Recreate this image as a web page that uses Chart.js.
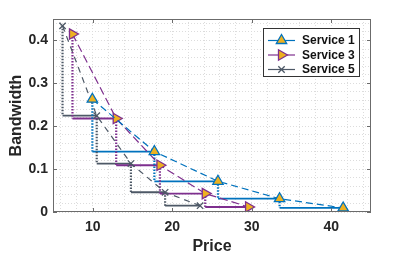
<!DOCTYPE html>
<html>
<head>
<meta charset="utf-8">
<script src="https://cdn.jsdelivr.net/npm/chart.js@4/dist/chart.umd.min.js"></script>
<style>
html,body{margin:0;padding:0;background:#fff;}
canvas{display:block;}
</style>
</head>
<body>
<canvas id="c" width="409" height="256"></canvas>
<script>
// ---- data ----
const seriesNames = ['Service 1', 'Service 3', 'Service 5'];
const price1 = [9.95, 17.75, 25.75, 33.5, 41.5];
const bw1    = [0.263, 0.141, 0.0716, 0.031, 0.0094];
const price3 = [7.45, 12.95, 18.45, 24.15, 29.6];
const bw3    = [0.415, 0.218, 0.109, 0.043, 0.0117];
const price5 = [6.2, 10.5, 14.8, 19.1, 23.5];
const bw5    = [0.434, 0.2245, 0.113, 0.046, 0.0147];
const xTickLabels = [10, 20, 30, 40];
const yTickLabels = [0, 0.1, 0.2, 0.3, 0.4];

// ---- styles ----
const BLUE = '#0072BD', PURPLE = '#7E2F8E', GRAY = '#4d5866', ORANGE = '#EDB120';
const FONT = 'Liberation Sans, Arial, Helvetica, sans-serif';

function pts(xs, ys) { return xs.map((x, i) => ({x: x, y: ys[i]})); }
function steps(xs, ys) {        // horizontal solid segments at next level
  const out = [];
  for (let i = 0; i < xs.length - 1; i++) {
    out.push({x: xs[i], y: ys[i + 1]}, {x: xs[i + 1], y: ys[i + 1]}, {x: xs[i + 1], y: null});
  }
  return out;
}
function drops(xs, ys) {        // vertical dotted drops
  const out = [];
  for (let i = 0; i < xs.length - 1; i++) {
    out.push({x: xs[i], y: ys[i]}, {x: xs[i], y: ys[i + 1]}, {x: xs[i], y: null});
  }
  return out;
}

const series = [
  {name: seriesNames[0], xs: price1, ys: bw1, color: BLUE, style: 'triangle', rot: 0, r: 6, fill: ORANGE, dash: [7, 4]},
  {name: seriesNames[1], xs: price3, ys: bw3, color: PURPLE, style: 'triangle', rot: 90, r: 6, fill: ORANGE, dash: [8, 4]},
  {name: seriesNames[2], xs: price5, ys: bw5, color: GRAY, style: 'crossRot', rot: 0, r: 4.5, fill: GRAY, dash: [6, 5]}
];

const datasets = [];
series.forEach(s => {
  datasets.push({
    label: s.name, legend: true, data: pts(s.xs, s.ys), order: 0,
    borderColor: s.color, borderWidth: 1.2, borderDash: s.dash,
    pointStyle: s.style, pointRotation: s.rot, pointRadius: s.r,
    pointBackgroundColor: s.fill, pointBorderColor: s.color, pointBorderWidth: 1.3,
    showLine: true, tension: 0, _marker: s
  });
});
series.forEach(s => {
  datasets.push({
    label: s.name + ' step', data: steps(s.xs, s.ys), order: 2,
    borderColor: s.color, borderWidth: 1.8, pointRadius: 0, showLine: true, spanGaps: false
  });
  datasets.push({
    label: s.name + ' drop', data: drops(s.xs, s.ys), order: 1,
    borderColor: s.color, borderWidth: 2.2, borderDash: [1.5, 1.5], pointRadius: 0, showLine: true, spanGaps: false
  });
});

function drawMarker(ctx, s, x, y) {
  ctx.save();
  ctx.lineWidth = 1.3;
  ctx.strokeStyle = s.color;
  ctx.fillStyle = s.fill;
  ctx.setLineDash([]);
  ctx.beginPath();
  if (s.style === 'triangle') {
    let rad = s.rot * Math.PI / 180;
    for (let k = 0; k < 3; k++) {
      const px = x + Math.sin(rad) * s.r, py = y - Math.cos(rad) * s.r;
      if (k === 0) ctx.moveTo(px, py); else ctx.lineTo(px, py);
      rad += 2 * Math.PI / 3;
    }
    ctx.closePath();
    ctx.fill();
    ctx.stroke();
  } else {
    const o = s.r * Math.SQRT1_2;
    ctx.moveTo(x - o, y - o); ctx.lineTo(x + o, y + o);
    ctx.moveTo(x + o, y - o); ctx.lineTo(x - o, y + o);
    ctx.stroke();
  }
  ctx.restore();
}

const framePlugin = {
  id: 'frame',
  afterDraw(chart) {
    const ctx = chart.ctx, a = chart.chartArea;
    const xs = chart.scales.x, ys = chart.scales.y;
    ctx.save();
    ctx.setLineDash([]);
    ctx.strokeStyle = '#6b6b6b';
    ctx.lineWidth = 1;
    ctx.strokeRect(Math.round(a.left) + 0.5, Math.round(a.top) + 0.5,
                   Math.round(a.right - a.left) - 1, Math.round(a.bottom - a.top) - 1);
    const tl = 4;
    ctx.beginPath();
    xTickLabels.forEach(v => {
      const px = Math.round(xs.getPixelForValue(v)) + 0.5;
      ctx.moveTo(px, a.bottom); ctx.lineTo(px, a.bottom - tl);
      ctx.moveTo(px, a.top); ctx.lineTo(px, a.top + tl);
    });
    yTickLabels.forEach(v => {
      const py = Math.round(ys.getPixelForValue(v)) + 0.5;
      ctx.moveTo(a.left, py); ctx.lineTo(a.left + tl, py);
      ctx.moveTo(a.right, py); ctx.lineTo(a.right - tl, py);
    });
    ctx.stroke();

    // legend
    const bx = 263.5, by = 28.5, bw = 96, bh = 48;
    ctx.fillStyle = '#fff';
    ctx.fillRect(bx, by, bw, bh);
    ctx.strokeStyle = '#333';
    ctx.lineWidth = 1;
    ctx.strokeRect(bx, by, bw, bh);
    const legendSets = chart.data.datasets.filter(d => d.legend);
    legendSets.forEach((d, i) => {
      const s = d._marker;
      const yy = 40.5 + i * 14.5;
      ctx.strokeStyle = s.color;
      ctx.lineWidth = 1.2;
      ctx.beginPath();
      ctx.moveTo(268, yy); ctx.lineTo(295, yy);
      ctx.stroke();
      drawMarker(ctx, s, 281.5, yy);
      ctx.fillStyle = '#111';
      ctx.font = 'bold 12px ' + FONT;
      ctx.textBaseline = 'middle';
      ctx.textAlign = 'left';
      ctx.fillText(d.label, 302, yy + 0.5);
    });
    ctx.restore();
  }
};

const minorX = [];
for (let v = 6; v <= 44; v += 2) minorX.push(v);
const minorY = [];
for (let k = 0; k <= 22; k++) minorY.push(Math.round(k * 2) / 100);

new Chart(document.getElementById('c'), {
  type: 'scatter',
  data: {datasets: datasets},
  options: {
    responsive: false,
    animation: false,
    devicePixelRatio: 1,
    layout: {padding: {top: 19, right: 38, left: 0, bottom: 0}},
    plugins: {legend: {display: false}, tooltip: {enabled: false}},
    scales: {
      x: {
        type: 'linear', min: 5, max: 45, position: 'bottom',
        afterBuildTicks: sc => { sc.ticks = minorX.map(v => ({value: v})); },
        afterFit: sc => { sc.height = 44; },
        ticks: {
          autoSkip: false, maxRotation: 0, padding: 7, color: '#262626',
          font: {family: FONT, size: 14, weight: 'bold'},
          callback: v => xTickLabels.includes(v) ? String(v) : ''
        },
        grid: {color: '#dcdcdc', lineWidth: 1, drawTicks: false},
        border: {display: false, dash: [1, 2]},
        title: {display: true, text: 'Price', color: '#262626', padding: {top: 0, bottom: 0},
                font: {family: FONT, size: 16, weight: 'bold'}}
      },
      y: {
        type: 'linear', min: 0, max: 0.45, position: 'left',
        afterBuildTicks: sc => { sc.ticks = minorY.map(v => ({value: v})); },
        afterFit: sc => { sc.width = 53; },
        ticks: {
          autoSkip: false, padding: 5, color: '#262626',
          font: {family: FONT, size: 14, weight: 'bold'},
          callback: v => {
            const m = yTickLabels.find(t => Math.abs(t - v) < 1e-9);
            return m === undefined ? '' : String(m);
          }
        },
        grid: {color: '#dcdcdc', lineWidth: 1, drawTicks: false},
        border: {display: false, dash: [1, 2]},
        title: {display: true, text: 'Bandwidth', color: '#262626', padding: {top: 7, bottom: 0},
                font: {family: FONT, size: 16, weight: 'bold'}}
      }
    }
  },
  plugins: [framePlugin]
});
</script>
</body>
</html>
